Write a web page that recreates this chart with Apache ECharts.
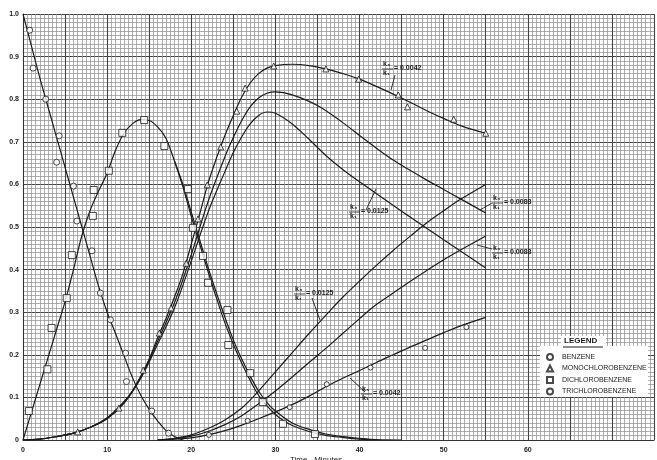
<!DOCTYPE html>
<html><head><meta charset="utf-8">
<script src="https://cdn.jsdelivr.net/npm/echarts@6/dist/echarts.min.js"></script>
<style>html,body{margin:0;padding:0;background:#fff}#c{width:657px;height:460px}</style>
</head><body><div id="c"></div>
<script>
// ---------- data ----------
const xTickLabels = [0, 10, 20, 30, 40, 50, 60];
const yTickLabels = ['0','0.1','0.2','0.3','0.4','0.5','0.6','0.7','0.8','0.9','1.0'];
const legendNames = ['BENZENE','MONOCHLOROBENZENE','DICHLOROBENZENE','TRICHLOROBENZENE'];

const benzeneCurve = [[0,1.0],[1,0.925],[2,0.85],[3,0.78],[4,0.71],[5,0.64],[6,0.57],[7,0.50],[8,0.43],[9,0.36],[10,0.30],[11,0.25],[12,0.198],[13,0.147],[14,0.105],[15,0.072],[16,0.045],[17,0.022],[18,0.008],[19,0]];
const benzenePts = [[0.8,0.962],[1.2,0.873],[2.7,0.80],[4.3,0.714],[4.0,0.652],[6.0,0.596],[6.4,0.514],[8.2,0.444],[9.2,0.345],[10.4,0.282],[12.2,0.204],[12.3,0.137],[15.3,0.068],[17.3,0.016]];

const monoCurveA = [[0,0],[2,0.002],[4,0.008],[6,0.016],[8,0.03],[10,0.052],[12,0.09],[13,0.115],[14,0.15],[15,0.19],[16,0.24],[17,0.285],[18,0.335],[19,0.39],[20,0.46],[21,0.53],[22,0.603],[23,0.662],[24,0.715],[25,0.762],[26,0.805],[27,0.838],[28,0.86],[29,0.873],[30,0.879],[32,0.882],[34,0.879],[36,0.871],[38,0.86],[40,0.847],[42,0.83],[44,0.812],[46,0.793],[48,0.773],[50,0.755],[52,0.738],[55,0.72]];
const monoCurveB = [[0,0],[2,0.002],[4,0.008],[6,0.016],[8,0.03],[10,0.051],[12,0.088],[14,0.148],[16,0.232],[18,0.322],[20,0.435],[22,0.56],[24,0.665],[25,0.71],[26,0.75],[27,0.782],[28,0.803],[29,0.814],[30,0.817],[32,0.81],[35,0.785],[38,0.745],[40,0.715],[42,0.685],[44,0.657],[46,0.633],[48,0.61],[50,0.588],[52,0.566],[55,0.533]];
const monoCurveC = [[0,0],[2,0.002],[4,0.008],[6,0.016],[8,0.03],[10,0.05],[12,0.086],[14,0.145],[16,0.225],[18,0.31],[20,0.42],[22,0.535],[24,0.63],[25,0.675],[26,0.712],[27,0.742],[28,0.762],[29,0.77],[30,0.767],[32,0.742],[34,0.706],[36,0.668],[38,0.635],[40,0.606],[45,0.537],[50,0.47],[55,0.404]];
const monoPts = [[6.5,0.019],[11.4,0.075],[14.3,0.164],[16.2,0.251],[17.6,0.31],[19.4,0.415],[20.8,0.519],[21.9,0.599],[23.5,0.688],[25.4,0.772],[26.4,0.826],[29.8,0.878],[36.0,0.871],[39.9,0.847],[44.6,0.81],[45.7,0.782],[51.2,0.753],[55,0.72]];

const dichloroCurveA = [[0,0],[1,0.065],[2,0.13],[3,0.195],[4,0.26],[5,0.325],[6,0.40],[7,0.48],[8,0.54],[9,0.585],[10,0.627],[11,0.68],[12,0.72],[13,0.742],[14,0.752],[15,0.75],[16,0.735],[17,0.708],[18,0.655],[19,0.595],[20,0.525],[21,0.46],[22,0.395],[23,0.333],[24,0.275],[25,0.225],[26,0.18],[27,0.14],[28,0.105],[29,0.08],[30,0.06],[31,0.045],[32,0.034],[34,0.02],[36,0.011],[38,0.006],[40,0.002],[42,0]];
const dichloroCurveB = [[18,0.655],[19,0.6],[20,0.535],[21,0.47],[22,0.405],[23,0.345],[24,0.288],[25,0.235],[26,0.19],[27,0.15],[28,0.115],[29,0.088],[30,0.068],[32,0.04],[34,0.025],[36,0.014],[38,0.008],[40,0.004],[42,0.001],[45,0]];
const dichloroPts = [[0.7,0.068],[2.9,0.166],[3.4,0.263],[5.2,0.333],[5.8,0.434],[8.3,0.526],[8.4,0.587],[10.2,0.632],[11.8,0.721],[14.4,0.751],[16.8,0.69],[19.6,0.589],[20.2,0.498],[21.4,0.432],[22.0,0.369],[24.3,0.305],[24.4,0.223],[27.0,0.157],[28.5,0.089],[30.9,0.038],[34.7,0.014]];

const trichloroCurveA = [[16,0],[18,0.004],[20,0.012],[22,0.027],[24,0.047],[26,0.075],[28,0.115],[30,0.16],[32,0.205],[34,0.25],[36,0.293],[38,0.335],[40,0.373],[42,0.41],[44,0.445],[46,0.478],[48,0.51],[50,0.538],[52,0.565],[55,0.60]];
const trichloroCurveB = [[16,0],[18,0.003],[20,0.009],[22,0.02],[24,0.036],[26,0.057],[28,0.085],[30,0.115],[32,0.148],[34,0.182],[36,0.215],[38,0.25],[40,0.285],[42,0.318],[44,0.345],[46,0.372],[48,0.398],[50,0.423],[52,0.446],[55,0.479]];
const trichloroCurveC = [[16,0],[18,0.002],[20,0.005],[22,0.012],[24,0.022],[26,0.035],[28,0.05],[30,0.066],[32,0.083],[34,0.103],[36,0.125],[38,0.145],[40,0.163],[42,0.182],[44,0.2],[46,0.218],[48,0.235],[50,0.252],[52,0.268],[55,0.288]];
const trichloroPts = [[22.1,0.012],[26.7,0.045],[31.7,0.077],[36.1,0.131],[41.3,0.17],[47.8,0.216],[52.7,0.265]];

const ratioLabels = ['0.0042','0.0125','0.0088','0.0088','0.0125','0.0042'];

// ---------- chart ----------
const INK = '#1c1c1c';
const FONT = '"Liberation Sans", Arial, sans-serif';
const chart = echarts.init(document.getElementById('c'), null, {renderer:'canvas'});

function curve(data) {
  return {type:'line', data, smooth:0.35, symbol:'none', silent:true,
    lineStyle:{color:INK, width:1.2}, z:3};
}
function pts(name, data, symbol, size) {
  return {type:'scatter', name, data, symbol, symbolSize:size,
    itemStyle:{color:'#fff', borderColor:INK, borderWidth:1}, z:4};
}

// annotation layout (pixel positions)
const annPos = [
  {x:383, y:62, lx1:395, ly1:75, lx2:391, ly2:90},
  {x:350, y:205, lx1:366, ly1:210, lx2:376, ly2:189},
  {x:493, y:196, lx1:492, ly1:203, lx2:480, ly2:210},
  {x:493, y:246, lx1:492, ly1:249, lx2:477, ly2:245},
  {x:295, y:287, lx1:312, ly1:298, lx2:320, ly2:320},
  {x:362, y:387, lx1:365, ly1:392, lx2:350, ly2:378}
];
const graphics = [];
annPos.forEach((p, i) => {
  graphics.push({type:'line', shape:{x1:p.lx1,y1:p.ly1,x2:p.lx2,y2:p.ly2}, style:{stroke:INK, lineWidth:0.9}, z:10});
  graphics.push({type:'text', x:p.x, y:p.y-1, style:{text:'k\u2083', font:'bold 7px '+FONT, fill:INK}, z:11});
  graphics.push({type:'line', shape:{x1:p.x-1, y1:p.y+7, x2:p.x+10, y2:p.y+7}, style:{stroke:INK, lineWidth:0.8}, z:11});
  graphics.push({type:'text', x:p.x, y:p.y+8, style:{text:'k\u2081', font:'bold 7px '+FONT, fill:INK}, z:11});
  graphics.push({type:'text', x:p.x+11, y:p.y+3, style:{text:'= ' + ratioLabels[i], font:'bold 7px '+FONT, fill:INK}, z:11});
});
// legend box + title
graphics.push({type:'rect', shape:{x:540, y:346, width:108, height:51}, style:{fill:'#fff'}, z:8});
graphics.push({type:'rect', shape:{x:561, y:336, width:45, height:12}, style:{fill:'#fff'}, z:8});
graphics.push({type:'text', x:564, y:337, style:{text:'LEGEND', font:'bold 8px '+FONT, fill:INK}, z:12});
graphics.push({type:'line', shape:{x1:563, y1:347, x2:603, y2:347}, style:{stroke:INK, lineWidth:1}, z:12});
graphics.push({type:'text', x:290, y:456, style:{text:'Time   Minutes', font:'8px '+FONT, fill:INK}, z:12});

chart.setOption({
  animation:false,
  backgroundColor:'#fff',
  grid:{left:23, right:0, top:14, bottom:20, containLabel:false},
  xAxis:{type:'value', min:0, max:75, interval:5,
    axisLine:{show:true, lineStyle:{color:'#333', width:1}},
    axisTick:{show:false},
    axisLabel:{margin:7, fontSize:7, fontWeight:'bold', color:INK, fontFamily:FONT,
      formatter:v => (xTickLabels.indexOf(v) >= 0 ? String(v) : '')},
    splitLine:{show:true, lineStyle:{color:'#444', width:1.1}},
    minorTick:{show:false, splitNumber:10},
    minorSplitLine:{show:true, lineStyle:{color:'#8e8e8e', width:0.7}}
  },
  yAxis:{type:'value', min:0, max:1.0, interval:0.1,
    axisLine:{show:true, lineStyle:{color:'#333', width:1}},
    axisTick:{show:false},
    axisLabel:{margin:4, fontSize:7, fontWeight:'bold', color:INK, fontFamily:FONT,
      formatter:v => yTickLabels[Math.round(v*10)]},
    splitLine:{show:true, lineStyle:{color:'#444', width:1.1}},
    minorTick:{show:false, splitNumber:10},
    minorSplitLine:{show:true, lineStyle:{color:'#8e8e8e', width:0.7}}
  },
  legend:{show:true, data:legendNames, orient:'vertical', left:546, top:353,
    itemWidth:6, itemHeight:6, itemGap:3.5, padding:0, z:13,
    textStyle:{fontSize:7, fontFamily:FONT, color:INK, padding:[0,0,0,4]}},
  graphic:graphics,
  series:[
    curve(benzeneCurve),
    curve(monoCurveA), curve(monoCurveB), curve(monoCurveC),
    curve(dichloroCurveA), curve(dichloroCurveB),
    curve(trichloroCurveA), curve(trichloroCurveB), curve(trichloroCurveC),
    pts('BENZENE', benzenePts, 'circle', 6),
    pts('MONOCHLOROBENZENE', monoPts, 'triangle', 6),
    pts('DICHLOROBENZENE', dichloroPts, 'rect', 7),
    pts('TRICHLOROBENZENE', trichloroPts, 'circle', 5)
  ]
});
</script>
</body></html>
